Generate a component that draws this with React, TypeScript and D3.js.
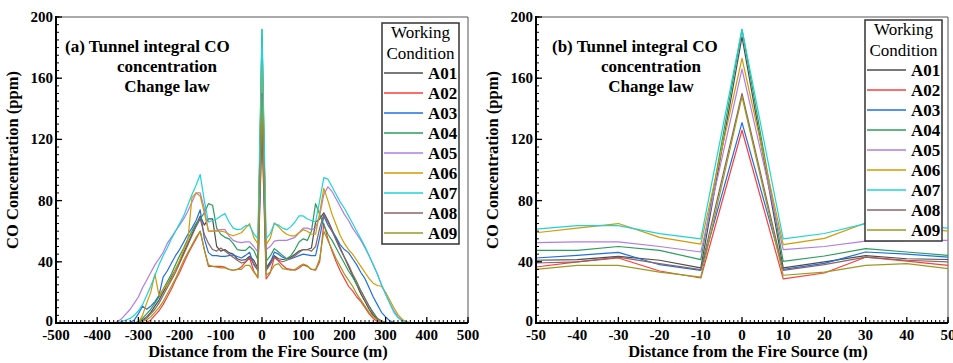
import React from 'react';
import * as d3 from 'd3';

// distance from the fire source (m)
const distances = [
  -500,
  -360, -350, -340, -330, -320, -310,
  -300, -290, -280, -270, -260, -250, -240, -230, -220, -210,
  -200, -190, -180, -170, -160, -150, -140, -130, -120, -110,
  -100, -90, -80, -70, -60, -50, -40, -30, -20, -10,
  0,
  10, 20, 30, 40, 50, 60, 70, 80, 90, 100,
  110, 120, 130, 140, 150, 160, 170, 180, 190, 200,
  210, 220, 230, 240, 250, 260, 270, 280, 290, 300,
  310, 320, 330, 340, 350, 360,
  500,
];

const seriesNames = ['A01', 'A02', 'A03', 'A04', 'A05', 'A06', 'A07', 'A08', 'A09'];
const seriesColors = ['#4d4d4d', '#ff3b3b', '#1f6fdf', '#2a9d5c', '#b07ce6', '#d49a00', '#1fd3d8', '#8c6464', '#9a9a22'];

// CO concentration (ppm)
const a01 = [
  0,
  0, 0, 0, 0, 0, 0,
  0.5, 2, 4, 7, 11, 15, 20, 25, 30, 35,
  40, 46, 52, 58, 64, 70, 64, 68, 68, 50,
  47, 48, 46, 45, 42, 41, 41.4, 43.6, 41, 36,
  187,
  36, 40, 44, 42, 41.5, 42, 43, 45, 47, 48,
  48, 49, 66, 68, 72, 67, 61, 55, 49, 43,
  37, 31, 25, 19, 14, 9, 5, 2.5, 1, 0.4,
  0, 0, 0, 0, 0, 0,
  0,
];
const a02 = [
  0,
  0, 0, 0, 0, 0, 0,
  0, 0, 0.5, 2, 5, 8, 12, 17, 22, 28,
  33, 39, 45, 50, 55, 60, 48, 37, 37, 37,
  37, 36.5, 35, 34.5, 35, 36.6, 39.9, 42.5, 34, 29.4,
  126,
  28.8, 32.7, 43, 40.5, 37.7, 35.5, 35, 34.5, 36, 38,
  37, 35, 34.5, 40, 65, 55, 47, 40, 34, 29,
  24, 21, 17, 14, 10, 6, 3, 1, 0.3, 0,
  0, 0, 0, 0, 0, 0,
  0,
];
const a03 = [
  0,
  0, 0, 0, 0, 0.5, 2,
  6, 11, 9, 11, 14, 18, 30, 34, 39, 44,
  48, 53, 58, 62, 67, 74, 55, 46, 44, 44,
  43.5, 43.5, 44, 44.5, 43.5, 42.5, 44.2, 46.2, 38.1, 34.4,
  131,
  35, 39, 46.4, 45, 43, 42, 42, 43, 44, 45,
  44.5, 44, 44, 56, 70, 64, 60, 56, 51, 48,
  46, 42, 38, 33, 29, 23, 17, 12, 7, 4,
  1.5, 0.5, 0, 0, 0, 0,
  0,
];
const a04 = [
  0,
  0, 0, 0, 0, 0, 0,
  1, 3, 6, 9, 13, 17, 22, 27, 32, 38,
  44, 49, 55, 60, 65, 68, 72, 78, 77, 62,
  58, 56, 55, 52, 48, 47.5, 47.5, 50, 47.5, 41.4,
  192,
  40.3, 43.8, 48.6, 46.4, 44.2, 42, 44, 48, 53, 55,
  54, 60, 78, 71, 64, 58, 54, 49, 44, 39,
  34, 30, 25, 21, 16, 11, 7, 3, 1.5, 0.5,
  0, 0, 0, 0, 0, 0,
  0,
];
const a05 = [
  0,
  0, 1, 3, 6, 9, 13,
  17, 23, 28, 33, 38, 42, 46, 52, 56, 60,
  64, 68, 73, 79, 85, 85, 75, 60, 60, 60.5,
  61, 61, 57, 54, 53, 52.5, 53, 53, 50, 46.4,
  166,
  48, 50, 53.5, 54, 54, 54, 55, 56, 59, 62,
  62, 61, 62, 70, 84, 89, 86, 81, 76, 71,
  67, 62, 58, 54, 49, 44, 38, 32, 25, 19,
  13, 8, 4, 2, 0.8, 0.2,
  0,
];
const a06 = [
  0,
  0, 0, 0, 0, 0, 0,
  0.3, 5, 13, 20, 32, 18, 22, 25, 29, 35,
  41, 48, 54, 82, 85, 83, 72, 60, 60, 60,
  60, 59.5, 58, 57, 58, 59, 62, 65, 56, 51.6,
  173,
  51.2, 55.3, 65.4, 63, 60, 58, 57, 57, 59, 61,
  60, 58, 58, 72, 88, 80, 71, 64, 57, 52,
  48, 45, 41, 37, 33, 29, 26, 24.5, 24, 20,
  15, 10, 5.5, 2.5, 0.8, 0,
  0,
];
const a07 = [
  0,
  0, 0.3, 1, 2, 3, 5,
  8, 12, 18, 24, 31, 38, 44, 49, 55, 60,
  65, 70, 77, 84, 90, 97, 80, 66, 67, 68,
  70, 71.5, 66, 62, 61, 61.4, 63.6, 63.6, 58.4, 55,
  192,
  55, 58.5, 65, 64, 62, 61, 63, 66, 70, 70,
  68, 67, 66, 80, 95, 94, 89, 84, 79, 75,
  70, 65, 60, 55, 50, 44, 38, 32, 25, 19,
  13, 7, 3.5, 1.5, 0.5, 0,
  0,
];
const a08 = [
  0,
  0, 0, 0, 0, 0, 0,
  0.3, 1.5, 3, 6, 9, 13, 18, 23, 28, 33,
  39, 45, 51, 57, 63, 68, 58, 52, 48, 47,
  49, 47, 45, 43, 41, 39.2, 39.9, 43.1, 38.8, 34.9,
  150,
  34.4, 38.1, 43.1, 41, 40, 41, 42, 44, 46, 48,
  48, 47, 50, 62, 71, 66, 60, 54, 48, 43,
  38, 32, 27, 21, 16, 11, 6, 3, 1.2, 0.4,
  0, 0, 0, 0, 0, 0,
  0,
];
const a09 = [
  0,
  0, 0, 0, 0, 0, 0,
  0.3, 1, 2, 4, 7, 10, 14, 19, 24, 29,
  35, 41, 46, 51, 56, 60, 48, 38, 37, 36.5,
  36, 36, 35, 34.5, 35, 35, 37.7, 37.7, 33.3, 30,
  148,
  31.2, 33.3, 37.7, 38.8, 35.5, 35, 34.5, 35, 37, 38.5,
  37.5, 35, 35, 42, 60, 54, 48, 42, 37, 32,
  28, 24, 19, 15, 11, 7, 4, 2, 0.8, 0.3,
  0, 0, 0, 0, 0, 0,
  0,
];
const seriesValues = [a01, a02, a03, a04, a05, a06, a07, a08, a09];

const yTicks = [0, 40, 80, 120, 160, 200];
const titleLines = ['Tunnel integral CO', 'concentration', 'Change law'];

const FONT = "'Liberation Serif', 'Times New Roman', Times, serif";
const TOP = 17;
const BOTTOM = 323;
const PLOT_W = 412;

type PanelProps = {
  left: number;
  tag: string;
  xMin: number;
  xMax: number;
  xStep: number;
  xMinor: number;
  legendX: number;
  legendY: number;
  titleX: number;
  titleCx: number;
};

const Panel = ({ left, tag, xMin, xMax, xStep, xMinor, legendX, legendY, titleX, titleCx }: PanelProps) => {
  const x = d3.scaleLinear().domain([xMin, xMax]).range([left, left + PLOT_W]);
  const y = d3.scaleLinear().domain([0, 200]).range([BOTTOM, TOP]);
  const line = d3.line<[number, number]>().x((d) => x(d[0])).y((d) => y(d[1]));

  const majorX = d3.range(xMin, xMax + xStep / 2, xStep);
  const minorX = d3.range(xMin, xMax + xMinor / 2, xMinor);
  const minorY = d3.range(0, 201, 5);

  return (
    <g style={{ fontFamily: FONT }}>
      {/* frame */}
      <line x1={left} x2={left + PLOT_W} y1={TOP} y2={TOP} stroke="#555" strokeWidth={1} />
      <line x1={left + PLOT_W} x2={left + PLOT_W} y1={TOP} y2={BOTTOM} stroke="#555" strokeWidth={1} />

      {/* series */}
      {seriesValues.map((vals, i) => {
        const pts = distances
          .map((d, j) => [d, vals[j]] as [number, number])
          .filter((p) => p[0] >= xMin && p[0] <= xMax);
        return (
          <path key={seriesNames[i]} d={line(pts) || ''} fill="none" stroke={seriesColors[i]} strokeWidth={1.2} strokeLinejoin="round" />
        );
      })}

      {/* axes */}
      <line x1={left} x2={left + PLOT_W} y1={BOTTOM} y2={BOTTOM} stroke="#000" strokeWidth={2} />
      <line x1={left} x2={left} y1={TOP - 1} y2={BOTTOM + 1} stroke="#000" strokeWidth={2} />

      {minorX.map((v) => (
        <line key={'mx' + v} x1={x(v)} x2={x(v)} y1={BOTTOM} y2={BOTTOM - 3} stroke="#000" strokeWidth={1} />
      ))}
      {majorX.map((v) => (
        <g key={'x' + v}>
          <line x1={x(v)} x2={x(v)} y1={BOTTOM} y2={BOTTOM - 6} stroke="#000" strokeWidth={1.3} />
          <text x={x(v)} y={340} textAnchor="middle" fontSize={15} fontWeight="bold">
            {String(v)}
          </text>
        </g>
      ))}
      {minorY.map((v) => (
        <line key={'my' + v} x1={left} x2={left + 3} y1={y(v)} y2={y(v)} stroke="#000" strokeWidth={1} />
      ))}
      {yTicks.map((v) => (
        <g key={'y' + v}>
          <line x1={left} x2={left + 6} y1={y(v)} y2={y(v)} stroke="#000" strokeWidth={1.3} />
          <text x={left - 3} y={y(v) + (v === 0 ? 3 : 5)} textAnchor="end" fontSize={15} fontWeight="bold">
            {v}
          </text>
        </g>
      ))}

      {/* axis titles */}
      <text x={left + 212} y={357} textAnchor="middle" fontSize={16.5} fontWeight="bold">
        Distance from the Fire Source (m)
      </text>
      <text transform={`translate(${left - 38}, 160) rotate(-90)`} textAnchor="middle" fontSize={16.5} fontWeight="bold">
        CO Concentration (ppm)
      </text>

      {/* annotation */}
      <text x={titleX} y={52} fontSize={17} fontWeight="bold">
        {tag} {titleLines[0]}
      </text>
      <text x={titleCx} y={72} textAnchor="middle" fontSize={17} fontWeight="bold">
        {titleLines[1]}
      </text>
      <text x={titleCx} y={92} textAnchor="middle" fontSize={17} fontWeight="bold">
        {titleLines[2]}
      </text>

      {/* legend */}
      <rect x={legendX} y={legendY} width={77} height={221} fill="#fff" stroke="#333" strokeWidth={1.5} />
      <text x={legendX + 38.5} y={legendY + 15} textAnchor="middle" fontSize={17}>
        Working
      </text>
      <text x={legendX + 38.5} y={legendY + 36} textAnchor="middle" fontSize={17}>
        Condition
      </text>
      {seriesNames.map((name, i) => {
        const ly = legendY + 50 + i * 20;
        return (
          <g key={'lg' + name}>
            <line x1={legendX + 2} x2={legendX + 41} y1={ly} y2={ly} stroke={seriesColors[i]} strokeWidth={1.3} />
            <text x={legendX + 46} y={ly + 6} fontSize={17} fontWeight="bold">
              {name}
            </text>
          </g>
        );
      })}
    </g>
  );
};

const App = () => {
  return (
    <svg width={953} height={363} style={{ position: 'absolute', left: 0, top: 0, background: '#fff' }}>
      <rect width={953} height={363} fill="#fff" />
      <Panel left={56} tag="(a)" xMin={-500} xMax={500} xStep={100} xMinor={10} legendX={382} legendY={23} titleX={65} titleCx={167} />
      <Panel left={536} tag="(b)" xMin={-50} xMax={50} xStep={10} xMinor={1} legendX={865} legendY={20} titleX={552} titleCx={651} />
    </svg>
  );
};

export default App;
